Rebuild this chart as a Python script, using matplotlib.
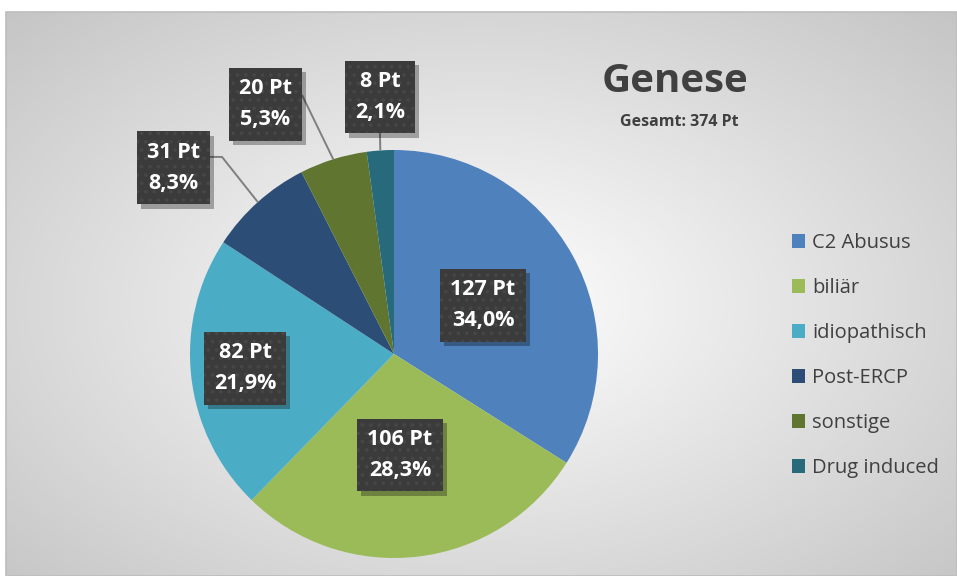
import numpy as np
import matplotlib
matplotlib.use("Agg")
import matplotlib.pyplot as plt
from matplotlib.patches import Patch, Rectangle
import matplotlib.patheffects as pe
from matplotlib.transforms import IdentityTransform

plt.rcParams['font.family'] = ['Open Sans', 'DejaVu Sans']
plt.rcParams['hatch.linewidth'] = 1.5

# ---------------- data ----------------
categories = ["C2 Abusus", "biliär", "idiopathisch", "Post-ERCP", "sonstige", "Drug induced"]
values = [127, 106, 82, 31, 20, 8]
colors = ["#4F81BD", "#9BBB59", "#4BACC6", "#2C4D75", "#5F7530", "#276A7C"]
title = "Genese"
unit = "Pt"

# label box centres (in pie-radius units, layout only)
label_pos = [(0.436, 0.240), (0.029, -0.495), (-0.730, -0.069),
             (-1.083, 0.912), (-0.632, 1.225), (-0.069, 1.260)]
# leader line starts (pie-radius units) for outside labels: index -> list of points
leader_start = {3: [(-0.902, 0.966), (-0.843, 0.966)],
                4: [(-0.451, 1.270)],
                5: [(-0.069, 1.083)]}

W, H = 957, 576
fig = plt.figure(figsize=(W / 100, H / 100), dpi=100)

# ---------------- background ----------------
bg = fig.add_axes([0, 0, 1, 1], zorder=-5)
yy, xx = np.mgrid[0:H, 0:W] + 0.5
cx, cy, hx, hy = 480, 305, 475, 290
d = np.sqrt(((xx - cx) / hx) ** 2 + ((yy - cy) / hy) ** 2) / np.sqrt(2)
g = np.clip(255 - 58 * d, 0, 255) / 255.0
mask = (xx >= 6) & (yy >= 12)
g = np.where(mask, g, 1.0)
img = np.dstack([g, g, g])
bg.imshow(img, extent=(0, W, H, 0), interpolation='bilinear')
bg.add_patch(Rectangle((6, 12), W - 6, H - 12, fill=False, edgecolor="#bdbdbd", lw=1.2))
bg.set_xlim(0, W)
bg.set_ylim(H, 0)
bg.axis('off')

# ---------------- pie ----------------
pcx, pcy, R = 394, 354, 204
L = 2.0
ax = fig.add_axes([(pcx - L * R) / W, (H - pcy - L * R) / H, 2 * L * R / W, 2 * L * R / H])
wedges, _ = ax.pie(values, colors=colors, startangle=90, counterclock=False,
                   radius=1, wedgeprops=dict(linewidth=0))
ax.set_xlim(-L, L)
ax.set_ylim(-L, L)
ax.axis('off')

total = sum(values)

# leader lines
for i, pts in leader_start.items():
    w = wedges[i]
    mid = np.deg2rad((w.theta1 + w.theta2) / 2)
    end = (np.cos(mid), np.sin(mid))
    path = pts + [end]
    ax.plot([p[0] for p in path], [p[1] for p in path], color="#7f7f7f", lw=1.4,
            zorder=3, solid_capstyle='butt')

# labels
texts = []
for i, v in enumerate(values):
    pct = f"{v / total * 100:.1f}".replace('.', ',')
    txt = f"{v} {unit}\n{pct}%"
    x, y = label_pos[i]
    t = ax.text(x, y, txt, ha='center', va='center', ma='center',
                fontsize=15.5, fontweight='bold', color='white', linespacing=1.62,
                zorder=7)
    texts.append(t)

# ---------------- titles ----------------
fig.text(675 / W, 1 - 92 / H, title, ha='center', va='baseline', fontsize=29,
         fontweight='bold', color='#404040')
fig.text(679 / W, 1 - 126 / H, f"Gesamt: {total} {unit}", ha='center', va='baseline',
         fontsize=11.5, fontweight='bold', color='#404040')

# ---------------- legend ----------------
handles = [Patch(facecolor=c, edgecolor='none') for c in colors]
leg = fig.legend(handles, categories, loc='upper left', bbox_to_anchor=(792 / W, 1 - 233 / H),
                 frameon=False, fontsize=14.5, handlelength=0.65, handleheight=0.65,
                 handletextpad=0.35, labelspacing=1.24, borderpad=0, borderaxespad=0)
for t in leg.get_texts():
    t.set_color('#404040')

# ---------------- label boxes (sized from rendered text) ----------------
fig.canvas.draw()
renderer = fig.canvas.get_renderer()
pad_x, pad_y = 10, 10.5
for t in texts:
    bb = t.get_window_extent(renderer)
    x0, y0 = bb.x0 - pad_x, bb.y0 - pad_y
    w, h = bb.width + 2 * pad_x, bb.height + 2 * pad_y
    box = Rectangle((x0, y0), w, h, transform=IdentityTransform(),
                    facecolor='#3b3b3b', edgecolor='none', zorder=5)
    box.set_path_effects([pe.SimplePatchShadow(offset=(3, -3), shadow_rgbFace='black',
                                               alpha=0.3), pe.Normal()])
    ax.add_artist(box)
    dots = Rectangle((x0, y0), w, h, transform=IdentityTransform(),
                     facecolor='none', edgecolor='#464646', lw=0, hatch='..', zorder=6)
    ax.add_artist(dots)

fig.savefig("out.png", dpi=100)
